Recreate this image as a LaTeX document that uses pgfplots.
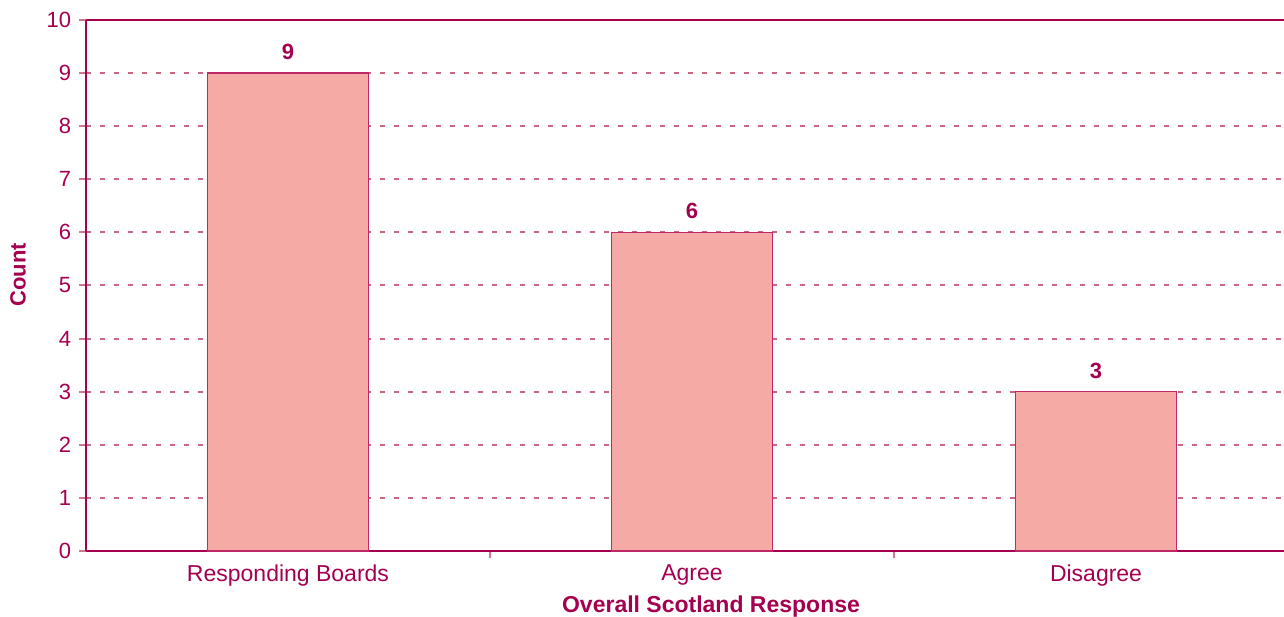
\documentclass[border=0pt]{standalone}
\usepackage{pgfplots}
\pgfplotsset{compat=1.18}
\usepackage{fontspec}
\setmainfont{Liberation Sans}
\definecolor{mag}{RGB}{165,0,80}
\definecolor{barfill}{RGB}{246,170,165}
\definecolor{baredge}{RGB}{190,40,100}
\definecolor{gridc}{RGB}{200,104,128}
\definecolor{tickc}{RGB}{205,120,140}
\begin{document}
\fontsize{23bp}{27bp}\selectfont
\begin{tikzpicture}[x=1bp,y=1bp]
\path[use as bounding box] (0,0) rectangle (1284,617);
\begin{axis}[
  at={(86bp,66bp)}, anchor=south west,
  scale only axis, width=1198bp, height=531bp,
  xmin=-0.5, xmax=2.4653, ymin=0, ymax=10,
  enlargelimits=false,
  axis x line*=bottom, axis y line*=left,
  axis line style={mag, line width=2.2bp},
  /pgf/number format/assume math mode=true,
  tick label style={font=\fontsize{22bp}{26bp}\selectfont, text=mag},
  ytick={0,1,...,10},
  tick align=outside,
  major tick length=7bp,
  tick style={tickc, line width=2bp},
  xtick={0.5,1.5}, xticklabels={},
  extra x ticks={0,1,2},
  extra x tick labels={Responding Boards, Agree, Disagree},
  extra x tick style={tick style={draw=none}, tick label style={font=\fontsize{23bp}{27bp}\selectfont, yshift=1bp}},
  ymajorgrids,
  grid style={gridc, line width=2bp, dash pattern=on 5bp off 9bp},
  ybar, bar width=0.4,
  nodes near coords,
  nodes near coords style={font=\fontsize{22bp}{26bp}\selectfont\bfseries, text=mag, yshift=5bp},
  clip=false,
]
\addplot[fill=barfill, draw=baredge, line width=1.2bp] coordinates {(0,9) (1,6) (2,3)};
\draw[mag, line width=2.2bp] (rel axis cs:0,1) -- (rel axis cs:1,1);
\end{axis}
\node[font=\fontsize{23bp}{27bp}\selectfont\bfseries, text=mag] at (711,10) {Overall Scotland Response};
\node[font=\fontsize{22bp}{26bp}\selectfont\bfseries, text=mag, rotate=90] at (18,342) {Count};
\end{tikzpicture}
\end{document}
